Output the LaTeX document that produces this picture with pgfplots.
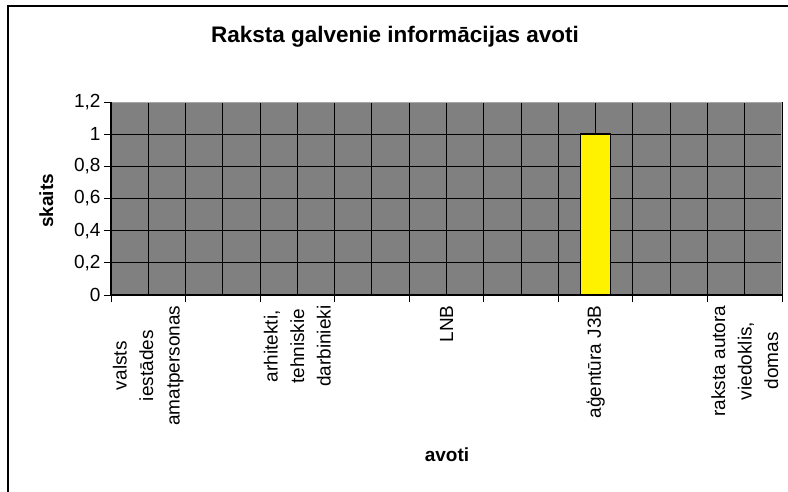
\documentclass[border=0pt]{standalone}
\usepackage{fontspec}
\setmainfont{Liberation Sans}
\usepackage{pgfplots}
\pgfplotsset{compat=1.18}
\begin{document}
\begin{tikzpicture}
\useasboundingbox (0,0) rectangle (788pt,491pt);
\fill[white] (0,0) rectangle (788pt,491pt);
% outer chart frame (only top and left edges visible)
\draw[black, line width=1.8pt] (8pt,-2pt) -- (8pt,485pt) -- (792pt,485pt);
% title
\node[anchor=base, font=\fontsize{22.5}{26}\selectfont\bfseries] at (395pt,448.5pt) {Raksta galvenie informācijas avoti};
% y axis title
\node[anchor=base, rotate=90, font=\fontsize{19}{22}\selectfont\bfseries] at (53pt,290pt) {skaits};
% x axis title
\node[anchor=base, font=\fontsize{19}{22}\selectfont\bfseries] at (447pt,30pt) {avoti};
\begin{axis}[
  at={(111pt,196pt)}, anchor=south west,
  width=671pt, height=193pt, scale only axis,
  xmin=-0.5, xmax=8.5, ymin=0, ymax=1.2,
  axis background/.style={fill=black!50},
  axis line style={draw=black!35, line width=1pt},
  xtick={0,1,2,3,4,5,6,7,8},
  xticklabels={{valsts\\iestādes\\amatpersonas},{},{arhitekti,\\tehniskie\\darbinieki},{},{LNB},{},{aģentūra J3B},{},{raksta autora\\viedoklis,\\domas}},
  minor xtick={-0.5,0.5,1.5,2.5,3.5,4.5,5.5,6.5,7.5,8.5},
  ytick={0,0.2,0.4,0.6,0.8,1,1.2},
  major x tick style={draw=none},
  minor tick length=7pt,
  major tick length=7pt,
  tick align=outside,
  tick style={black, line width=0.9pt},
  xtick pos=bottom, ytick pos=left,
  xmajorgrids, xminorgrids, ymajorgrids,
  grid style={black, line width=0.9pt},
  minor grid style={black, line width=0.9pt},
  xticklabel style={rotate=90, anchor=east, align=center, font=\fontsize{19}{26.5}\selectfont},
  yticklabel style={font=\fontsize{19}{22}\selectfont},
  /pgf/number format/assume math mode=true,
  /pgf/number format/use comma,
  ybar, bar width=0.4,
  clip=false,
]
\addplot[fill=yellow, draw=black, line width=1.5pt] coordinates {
  (0,0) (1,0) (2,0) (3,0) (4,0) (5,0) (6,1) (7,0) (8,0)
};
\draw[black, line width=1.5pt] (rel axis cs:0,1) -- (rel axis cs:0,0) -- (rel axis cs:1,0);
\end{axis}
\end{tikzpicture}
\end{document}
